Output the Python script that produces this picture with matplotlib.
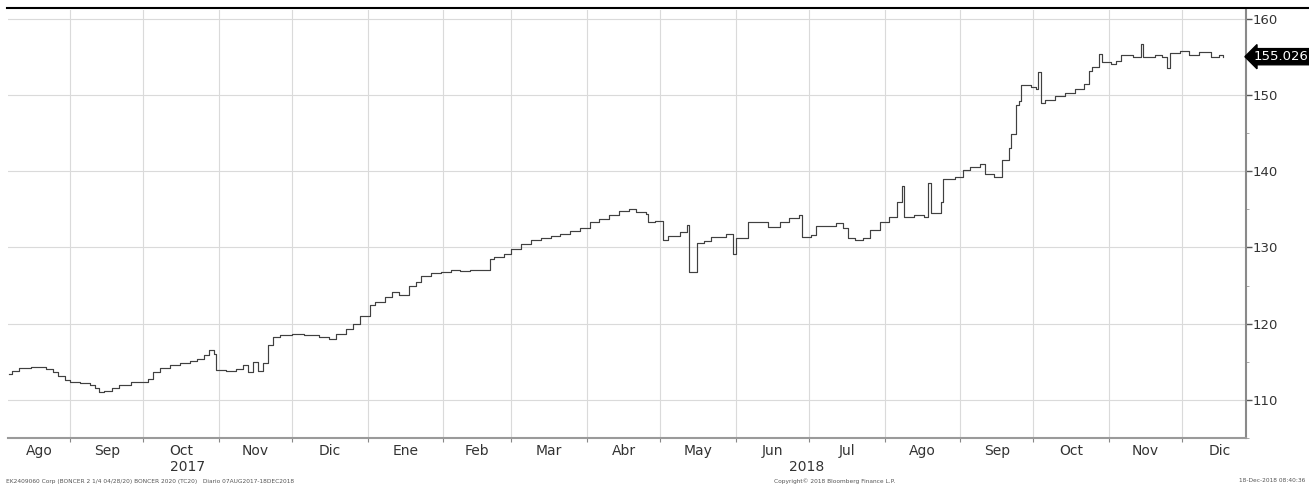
import matplotlib
matplotlib.use("Agg")
import matplotlib.pyplot as plt
import matplotlib.dates as mdates
from matplotlib.lines import Line2D
import pandas as pd

# BONCER 2020 (TC20) price, daily
dates = [
    "2017-08-07", "2017-08-08", "2017-08-11", "2017-08-16", "2017-08-22", "2017-08-25",
    "2017-08-27", "2017-08-30", "2017-09-01", "2017-09-05", "2017-09-09", "2017-09-11",
    "2017-09-13", "2017-09-15", "2017-09-18", "2017-09-21", "2017-09-26", "2017-09-30",
    "2017-10-03", "2017-10-05", "2017-10-08", "2017-10-12", "2017-10-16", "2017-10-20",
    "2017-10-23", "2017-10-26", "2017-10-28", "2017-10-30", "2017-10-31", "2017-11-04",
    "2017-11-08", "2017-11-11", "2017-11-13", "2017-11-15", "2017-11-17", "2017-11-19",
    "2017-11-21", "2017-11-23", "2017-11-26", "2017-12-01", "2017-12-06", "2017-12-12",
    "2017-12-16", "2017-12-19", "2017-12-23", "2017-12-26", "2017-12-29", "2018-01-02",
    "2018-01-04", "2018-01-08", "2018-01-11", "2018-01-14", "2018-01-18", "2018-01-21",
    "2018-01-23", "2018-01-27", "2018-01-31", "2018-02-04", "2018-02-08", "2018-02-12",
    "2018-02-16", "2018-02-20", "2018-02-22", "2018-02-26", "2018-03-01", "2018-03-05",
    "2018-03-09", "2018-03-13", "2018-03-17", "2018-03-21", "2018-03-25", "2018-03-29",
    "2018-04-02", "2018-04-06", "2018-04-10", "2018-04-14", "2018-04-18", "2018-04-21",
    "2018-04-25", "2018-04-26", "2018-04-29", "2018-05-02", "2018-05-04", "2018-05-09",
    "2018-05-12", "2018-05-13", "2018-05-16", "2018-05-19", "2018-05-22", "2018-05-28",
    "2018-05-31", "2018-06-01", "2018-06-06", "2018-06-14", "2018-06-19", "2018-06-23",
    "2018-06-27", "2018-06-28", "2018-07-02", "2018-07-04", "2018-07-10", "2018-07-12",
    "2018-07-15", "2018-07-17", "2018-07-20", "2018-07-23", "2018-07-26", "2018-07-30",
    "2018-08-03", "2018-08-06", "2018-08-08", "2018-08-09", "2018-08-13", "2018-08-17",
    "2018-08-19", "2018-08-20", "2018-08-24", "2018-08-25", "2018-08-30", "2018-09-02",
    "2018-09-05", "2018-09-09", "2018-09-11", "2018-09-15", "2018-09-18", "2018-09-21",
    "2018-09-22", "2018-09-24", "2018-09-25", "2018-09-26", "2018-09-30", "2018-10-02",
    "2018-10-03", "2018-10-04", "2018-10-06", "2018-10-10", "2018-10-14", "2018-10-18",
    "2018-10-22", "2018-10-24", "2018-10-25", "2018-10-28", "2018-10-29", "2018-11-02",
    "2018-11-04", "2018-11-06", "2018-11-11", "2018-11-14", "2018-11-15", "2018-11-20",
    "2018-11-23", "2018-11-25", "2018-11-26", "2018-11-30", "2018-12-04", "2018-12-08",
    "2018-12-13", "2018-12-16", "2018-12-18",
]
prices = [
    113.4, 113.8, 114.2, 114.3, 114.1, 113.7,
    113.1, 112.6, 112.3, 112.2, 112.0, 111.5,
    111.0, 111.2, 111.6, 112.0, 112.3, 112.4,
    112.8, 113.6, 114.2, 114.6, 114.9, 115.1,
    115.4, 115.9, 116.5, 116.0, 113.9, 113.8,
    114.0, 114.6, 113.6, 115.0, 113.8, 114.8,
    117.2, 118.2, 118.5, 118.6, 118.5, 118.2,
    118.0, 118.7, 119.3, 120.0, 121.0, 122.5,
    122.8, 123.5, 124.2, 123.8, 125.0, 125.5,
    126.3, 126.6, 126.8, 127.0, 126.9, 127.0,
    127.1, 128.5, 128.8, 129.2, 129.8, 130.5,
    131.0, 131.3, 131.5, 131.8, 132.2, 132.6,
    133.3, 133.7, 134.2, 134.8, 135.0, 134.6,
    134.4, 133.3, 133.5, 131.0, 131.5, 132.0,
    132.9, 126.8, 130.6, 130.9, 131.4, 131.7,
    129.1, 131.3, 133.3, 132.7, 133.3, 133.8,
    134.2, 131.4, 131.6, 132.8, 132.8, 133.2,
    132.5, 131.3, 131.0, 131.2, 132.3, 133.3,
    134.0, 136.0, 138.0, 134.0, 134.2, 134.0,
    138.4, 134.5, 136.0, 139.0, 139.2, 140.2,
    140.6, 140.9, 139.6, 139.2, 141.5, 143.0,
    144.9, 148.7, 149.2, 151.3, 151.0, 150.8,
    153.0, 149.0, 149.4, 149.9, 150.3, 150.8,
    151.5, 153.2, 153.7, 155.4, 154.3, 154.1,
    154.5, 155.2, 155.0, 156.7, 155.0, 155.2,
    155.0, 153.5, 155.5, 155.8, 155.3, 155.6,
    155.0, 155.2, 155.026,
]
month_names = ["Ene", "Feb", "Mar", "Abr", "May", "Jun",
               "Jul", "Ago", "Sep", "Oct", "Nov", "Dic"]
last_price = 155.026
ytick_values = [110, 120, 130, 140, 150, 160]

x = pd.to_datetime(dates)
x_lo = pd.Timestamp("2017-08-06 12:00")
x_hi = pd.Timestamp("2018-12-27 06:00")

fig = plt.figure(figsize=(13.09, 4.88), dpi=100)
ax = fig.add_axes([8 / 1309, 1 - 438 / 488, 1238 / 1309, 428 / 488])

ax.plot(x, prices, color="#404040", lw=0.85, drawstyle="steps-post")

ax.set_xlim(x_lo, x_hi)
ax.set_ylim(106.15, 161.15)

# y axis on the right
ax.yaxis.tick_right()
ax.set_yticks(ytick_values)
ax.set_yticks(range(105, 161, 5), minor=True)
ax.tick_params(axis="y", which="major", length=4, width=1, color="#555555",
               labelsize=9.5, labelcolor="#333333", pad=1)
ax.tick_params(axis="y", which="minor", length=2, color="#999999")

# x axis: month starts as grid/ticks, labels mid-month
ax.xaxis.set_major_locator(mdates.MonthLocator())
ax.xaxis.set_major_formatter(plt.NullFormatter())
ax.tick_params(axis="x", which="major", length=3, color="#888888")
ax.tick_params(axis="x", which="minor", length=0)

month_starts = pd.date_range("2017-08-01", "2018-12-01", freq="MS")
for ms in month_starts:
    me = ms + pd.offsets.MonthBegin(1)
    lo = max(ms, x[0])
    mid = lo + (me - lo) / 2
    ax.text(mid, -0.014, month_names[ms.month - 1], transform=ax.get_xaxis_transform(),
            ha="center", va="top", fontsize=10, color="#333333")

for yr in [2017, 2018]:
    a = max(pd.Timestamp(f"{yr}-01-01"), x_lo)
    b = min(pd.Timestamp(f"{yr + 1}-01-01"), x_hi)
    ax.text(a + (b - a) / 2, -0.052, str(yr), transform=ax.get_xaxis_transform(),
            ha="center", va="top", fontsize=10, color="#333333")

ax.grid(True, which="major", color="#dadada", lw=0.8)
ax.set_axisbelow(True)

for s in ["left", "top"]:
    ax.spines[s].set_visible(False)
ax.spines["right"].set_color("#8a8a8a")
ax.spines["right"].set_linewidth(1.5)
ax.spines["bottom"].set_color("#9a9a9a")
ax.spines["bottom"].set_linewidth(1.5)

# last value tag
ax.annotate(f"{last_price:.3f}", xy=(1.0, last_price), xycoords=ax.get_yaxis_transform(),
            xytext=(1.006, last_price), textcoords=ax.get_yaxis_transform(),
            ha="left", va="center", fontsize=9.5, color="white",
            bbox=dict(boxstyle="larrow,pad=0.12", fc="black", ec="black"))

# top rule
fig.add_artist(Line2D([7 / 1309, 1.0], [1 - 8 / 488, 1 - 8 / 488], color="black", lw=1.5,
                      transform=fig.transFigure))

# footer
fig.text(6 / 1309, 1 - 481 / 488, "EK2409060 Corp (BONCER 2 1/4 04/28/20) BONCER 2020 (TC20)   Diario 07AUG2017-18DEC2018",
         fontsize=4.2, color="#555555", va="center", ha="left")
fig.text(835 / 1309, 1 - 481 / 488, "Copyright\u00a9 2018 Bloomberg Finance L.P.",
         fontsize=4.2, color="#555555", va="center", ha="center")
fig.text(1305 / 1309, 1 - 481 / 488, "18-Dec-2018 08:40:36",
         fontsize=4.2, color="#555555", va="center", ha="right")

fig.savefig("out.png", dpi=100)
